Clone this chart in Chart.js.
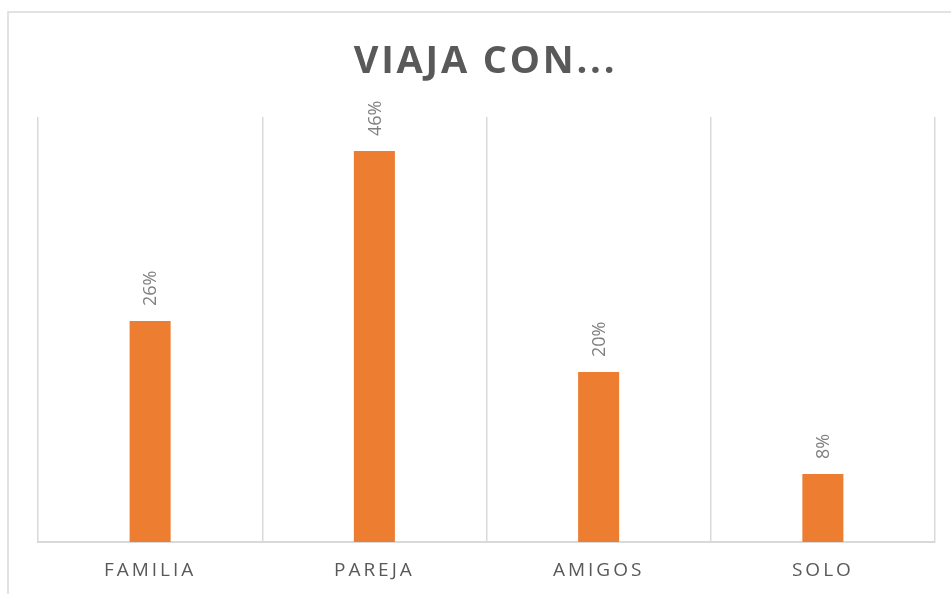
<!DOCTYPE html>
<html>
<head>
<meta charset="utf-8">
<script src="https://cdn.jsdelivr.net/npm/chart.js@4"></script>
<style>
  html, body { margin: 0; padding: 0; background: #fff; }
  #wrap { width: 951px; height: 594px; }
</style>
</head>
<body>
<div id="wrap"><canvas id="barchart" width="951" height="594"></canvas></div>
<script>
const categorias = ['FAMILIA', 'PAREJA', 'AMIGOS', 'SOLO'];
const porcentajes = [26, 46, 20, 8];
const titulo = 'VIAJA CON...';

const ctx = document.getElementById('barchart');

// marco gris del gráfico + espaciado de letras de las etiquetas del eje
const marco = {
  id: 'marco',
  beforeDraw(chart) {
    const c = chart.ctx;
    c.save();
    c.strokeStyle = '#d9d9d9';
    c.lineWidth = 1.5;
    c.strokeRect(8, 12, 2000, 2000);
    c.restore();
    c.letterSpacing = '3px';
  }
};

// etiquetas de datos giradas sobre cada barra
const etiquetas = {
  id: 'etiquetas',
  afterDatasetsDraw(chart) {
    const c = chart.ctx;
    const meta = chart.getDatasetMeta(0);
    c.save();
    c.letterSpacing = '0px';
    c.font = '18px "Open Sans"';
    c.fillStyle = '#808080';
    c.textAlign = 'left';
    c.textBaseline = 'middle';
    meta.data.forEach((bar, i) => {
      c.save();
      c.translate(bar.x + 1, bar.y - 15);
      c.rotate(-Math.PI / 2);
      c.fillText(porcentajes[i] + '%', 0, 0);
      c.restore();
    });
    c.restore();
  },
  afterDraw(chart) {
    const c = chart.ctx;
    const a = chart.chartArea;
    c.save();
    c.letterSpacing = '2.8px';
    c.font = 'bold 38px "Open Sans"';
    c.fillStyle = '#595959';
    c.textAlign = 'center';
    c.textBaseline = 'alphabetic';
    c.fillText(titulo, (a.left + a.right) / 2 - 1, 73);
    c.restore();
  }
};

new Chart(ctx, {
  type: 'bar',
  data: {
    labels: categorias,
    datasets: [{
      data: porcentajes,
      backgroundColor: '#ED7D31',
      borderWidth: 0,
      categoryPercentage: 1,
      barPercentage: 0.183
    }]
  },
  options: {
    responsive: false,
    animation: false,
    layout: {
      padding: { left: 38, right: 16, top: 117, bottom: 12 }
    },
    plugins: {
      legend: { display: false },
      title: { display: false },
      tooltip: { enabled: false }
    },
    scales: {
      x: {
        offset: true,
        afterFit(scale) { scale.height = 40; },
        grid: {
          offset: true,
          color: '#d9d9d9',
          lineWidth: 1.5,
          drawTicks: false
        },
        border: { display: true, color: '#d9d9d9', width: 2 },
        ticks: {
          color: '#595959',
          font: { family: 'Open Sans', size: 19 },
          padding: 17,
          autoSkip: false,
          maxRotation: 0
        }
      },
      y: {
        display: false,
        min: 0,
        max: 50
      }
    }
  },
  plugins: [marco, etiquetas]
});
</script>
</body>
</html>
